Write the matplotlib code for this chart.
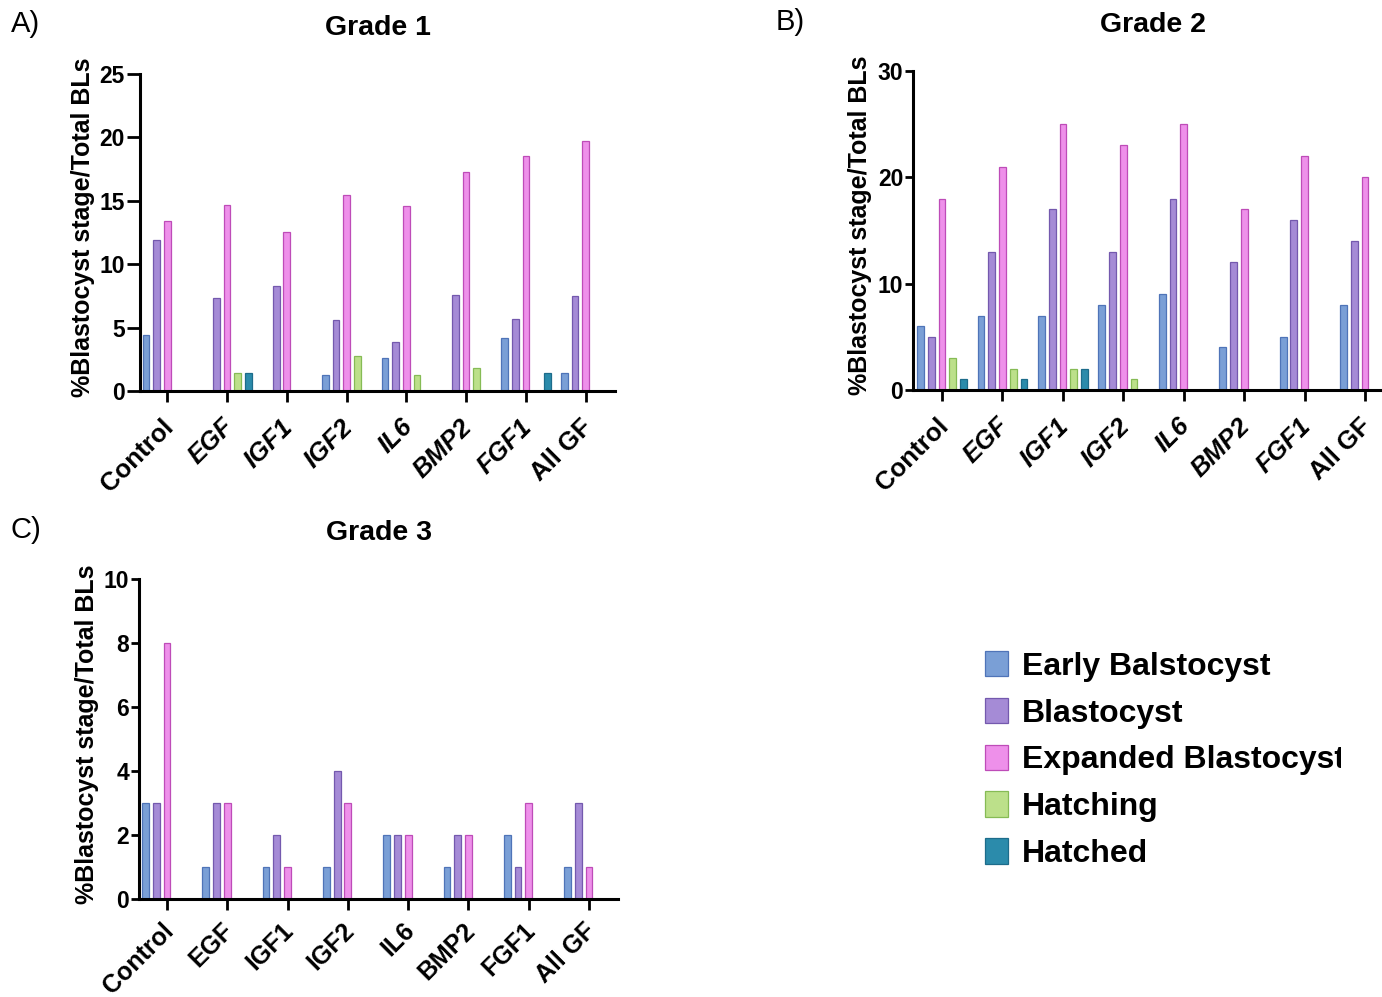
import matplotlib
matplotlib.use("Agg")
import matplotlib.pyplot as plt
import numpy as np
from matplotlib.transforms import Bbox, ScaledTranslation

plt.rcParams['font.family'] = ['Liberation Sans', 'DejaVu Sans']

categories = ["Control", "EGF", "IGF1", "IGF2", "IL6", "BMP2", "FGF1", "All GF"]
stages = ["Early Balstocyst", "Blastocyst", "Expanded Blastocyst", "Hatching", "Hatched"]

# Grade 1 (% of total blastocysts)
g1_early = [4.4, 0, 0, 1.3, 2.6, 0, 4.2, 1.45]
g1_blast = [11.9, 7.3, 8.3, 5.6, 3.9, 7.6, 5.65, 7.5]
g1_expanded = [13.4, 14.7, 12.5, 15.45, 14.6, 17.3, 18.5, 19.7]
g1_hatching = [0, 1.4, 0, 2.75, 1.3, 1.85, 0, 0]
g1_hatched = [0, 1.4, 0, 0, 0, 0, 1.4, 0]

# Grade 2
g2_early = [6, 7, 7, 8, 9, 4, 5, 8]
g2_blast = [5, 13, 17, 13, 18, 12, 16, 14]
g2_expanded = [18, 21, 25, 23, 25, 17, 22, 20]
g2_hatching = [3, 2, 2, 1, 0, 0, 0, 0]
g2_hatched = [1, 1, 2, 0, 0, 0, 0, 0]

# Grade 3
g3_early = [3, 1, 1, 1, 2, 1, 2, 1]
g3_blast = [3, 3, 2, 4, 2, 2, 1, 3]
g3_expanded = [8, 3, 1, 3, 2, 2, 3, 1]
g3_hatching = [0, 0, 0, 0, 0, 0, 0, 0]
g3_hatched = [0, 0, 0, 0, 0, 0, 0, 0]

fills = ["#7A9FD6", "#A58BD6", "#EE90EA", "#BCE08A", "#2B8BAB"]
edges = ["#4F74B8", "#7459AE", "#BE4CB8", "#86BB55", "#1D6C8B"]

W, H = 1382, 997
fig = plt.figure(figsize=(W / 100, H / 100), dpi=100)


def px_axes(left, right, top, bottom):
    return fig.add_axes([left / W, 1 - bottom / H, (right - left) / W, (bottom - top) / H])


def draw_panel(ax, series, ymax, ystep, xlim, title, title_x, letter, letter_xy,
               italic_names, ylabel_x, ticklen, xlab_size, xlab_pad):
    x = np.arange(len(categories))
    slot = 0.178
    width = 0.112
    containers = []
    for k, vals in enumerate(series):
        c = ax.bar(x + (k - 2) * slot, vals, width, color=fills[k],
                   edgecolor=edges[k], linewidth=0.9, label=stages[k])
        containers.append(c)
    ax.set_xlim(*xlim)
    ax.set_ylim(0, ymax)
    ax.set_yticks(np.arange(0, ymax + 0.01, ystep))
    ax.set_xticks(x)
    ax.set_xticklabels(categories)
    for sp in ["top", "right"]:
        ax.spines[sp].set_visible(False)
    for sp in ["left", "bottom"]:
        ax.spines[sp].set_linewidth(2.2)
    ax.tick_params(axis="y", length=ticklen, width=2.0, labelsize=16.5, pad=1.5)
    ax.tick_params(axis="x", length=8, width=2.0, labelsize=xlab_size, pad=xlab_pad)
    for lab in ax.get_yticklabels():
        lab.set_fontweight("bold")
    shift = ScaledTranslation(-6 / 100, 0, fig.dpi_scale_trans)
    for lab in ax.get_xticklabels():
        lab.set_fontweight("bold")
        lab.set_rotation(45)
        lab.set_ha("right")
        lab.set_va("top")
        lab.set_rotation_mode("anchor")
        lab.set_transform(lab.get_transform() + shift)
        if italic_names and lab.get_text() not in ("Control", "All GF"):
            lab.set_fontstyle("italic")
    ax.set_ylabel("%Blastocyst stage/Total BLs", fontsize=18, fontweight="bold")
    ax.yaxis.set_label_coords(ylabel_x, 0.515)
    ax.set_title(title, fontsize=20.5, fontweight="bold", pad=28, x=title_x)
    fig.text(letter_xy[0] / W, 1 - letter_xy[1] / H, letter, fontsize=21,
             ha="left", va="baseline")
    return containers


ax1 = px_axes(140, 615, 74, 391)
bars = draw_panel(ax1, [g1_early, g1_blast, g1_expanded, g1_hatching, g1_hatched],
                  25, 5, (-0.456, 7.49), "Grade 1", 0.5, "A)", (11, 32), True,
                  -0.095, 9.5, 18.5, 9)

ax2 = px_axes(913, 1382, 71, 390)
draw_panel(ax2, [g2_early, g2_blast, g2_expanded, g2_hatching, g2_hatched],
           30, 10, (-0.48, 7.28), "Grade 2", 0.512, "B)", (776, 30), True,
           -0.087, 5.5, 18.5, 9)

ax3 = px_axes(139, 618, 579, 899)
draw_panel(ax3, [g3_early, g3_blast, g3_expanded, g3_hatching, g3_hatched],
           10, 2, (-0.464, 7.48), "Grade 3", 0.5, "C)", (11, 538), False,
           -0.084, 5.5, 18, 6)

leg = fig.legend(handles=bars, labels=stages, loc="upper left",
                 bbox_to_anchor=(985 / W, 1 - 651 / H), frameon=False,
                 prop={"weight": "bold", "size": 23}, handlelength=0.72,
                 handleheight=0.85, handletextpad=0.44, labelspacing=0.50,
                 borderpad=0, borderaxespad=0)
clip = Bbox.from_extents(0, 0, 1341, H)
for t in leg.get_texts():
    t.set_clip_box(clip)
    t.set_clip_on(True)

fig.savefig("out.png", dpi=100)
